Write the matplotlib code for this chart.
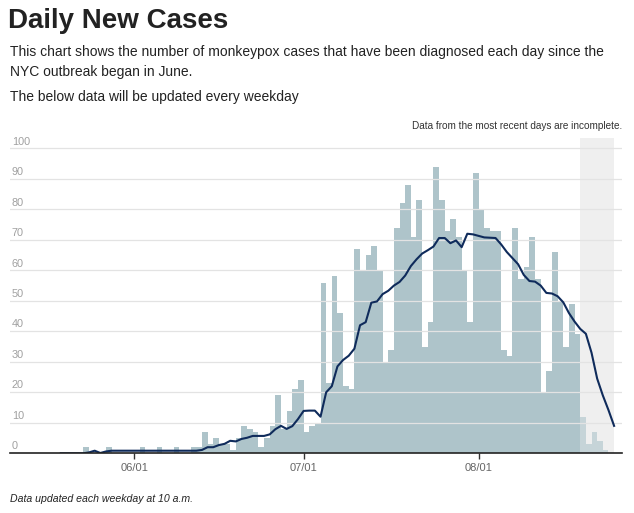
import numpy as np
import pandas as pd
import matplotlib
matplotlib.use("Agg")
import matplotlib.pyplot as plt
import matplotlib.dates as mdates
import matplotlib.transforms as mtransforms

plt.rcParams['font.family'] = ['Liberation Sans', 'DejaVu Sans']

# daily diagnosed cases (bars)
bar_start = "2022-05-18"
daily_cases = [
    0, 0, 0, 0, 0, 2, 0, 0, 0, 2, 0, 0, 0, 0,            # May 18 - May 31
    0, 2, 0, 0, 2, 0, 0, 2, 0, 0, 2, 2, 7, 3, 5,         # Jun 1 - Jun 15
    3, 3, 1, 5, 9, 8, 7, 2, 5, 9, 19, 8, 14, 21, 24,     # Jun 16 - Jun 30
    7, 9, 10, 56, 23, 58, 46, 22, 21, 67, 60, 65, 68, 60, 30, 34,   # Jul 1 - Jul 16
    74, 82, 88, 71, 83, 35, 43, 94, 83, 73, 77, 71, 60, 43, 92,     # Jul 17 - Jul 31
    80, 74, 73, 73, 34, 32, 74, 57, 61, 71, 57, 20, 27, 66, 50, 35, # Aug 1 - Aug 16
    49, 39, 12, 3, 7, 4, 1, 0,                                      # Aug 17 - Aug 24
]

# smoothed average (line)
line_start = "2022-05-19"
avg_cases = [
    0, 0, 0, 0, 0, 0.3, 0.85, 0.1, 0.6, 0.85, 0.85, 0.85, 0.85,      # May 19 - May 31
    0.85, 0.85, 0.85, 0.85, 0.85, 0.85, 0.85, 0.85, 0.85, 0.85, 0.85, 0.85,  # Jun 1 - Jun 12
    1.1, 2, 2, 2.7, 3.1, 4.1, 3.9, 4.7, 5.1, 5.7, 5.7, 5.7, 6.2,     # Jun 13 - Jun 25
    7.9, 9, 8, 8.9, 11.2,                                             # Jun 26 - Jun 30
    13.9, 14, 14, 12, 20, 22, 28.5, 30.6, 32, 34.3, 42, 43, 49.4, 49.8, 52.2, 53.3,  # Jul 1 - Jul 16
    55, 56.2, 58.3, 61.4, 63.6, 65.5, 66.6, 67.8, 70.6, 70.6, 68.9, 69.8, 67.6, 72, 71.8,  # Jul 17 - Jul 31
    71.3, 70.8, 70.7, 70.6, 68.5, 66, 64, 62, 58.5, 56.5, 56.3, 55, 52.6, 52.4, 51.5, 49.5,  # Aug 1 - Aug 16
    46, 43.2, 40.8, 39.2, 33, 24.5, 19, 14.2, 9,                     # Aug 17 - Aug 25
]

incomplete_from = "2022-08-19"
incomplete_to = "2022-08-25"
tick_dates = ["2022-06-01", "2022-07-01", "2022-08-01"]
tick_labels = ["06/01", "07/01", "08/01"]
y_ticks = list(range(0, 101, 10))

bar_dates = pd.date_range(bar_start, periods=len(daily_cases), freq="D")
line_dates = pd.date_range(line_start, periods=len(avg_cases), freq="D")
incomplete_start = pd.Timestamp(incomplete_from)

W, H = 634, 513
fig = plt.figure(figsize=(W / 100, H / 100), dpi=100)

def px(x, y):
    return x / W, 1 - y / H

# axes: x 10..622 px, y 138..453 px
ax = fig.add_axes([10 / W, (H - 453.3) / H, 612 / W, 315.3 / H])

bar_col = ["#aec4ca" if d < incomplete_start else "#c6d4d8" for d in bar_dates]
ax.bar(bar_dates, daily_cases, width=1, align="edge", color=bar_col, zorder=2, linewidth=0)
ax.axvspan(pd.Timestamp(incomplete_from), pd.Timestamp(incomplete_to), color="#efefef", zorder=0, lw=0)

for v in y_ticks:
    ax.axhline(v, color="#e3e3e3", lw=0.9, zorder=3)
trans = mtransforms.blended_transform_factory(ax.transAxes, ax.transData)
for v in y_ticks:
    ax.text(2 / 612, v + 0.6, str(v), transform=trans, ha="left", va="bottom",
            fontsize=7.8, color="#a0a0a0", zorder=5)

ax.plot(line_dates, avg_cases, color="#0f2b5b", lw=1.5, zorder=4, solid_joinstyle="round")

ax.set_ylim(0, 103.4)
d0 = mdates.date2num(pd.Timestamp("2022-06-01"))
ax.set_xlim(d0 - 22.0, d0 + 86.4)

for s in ["top", "right", "left"]:
    ax.spines[s].set_visible(False)
ax.spines["bottom"].set_color("#222222")
ax.spines["bottom"].set_linewidth(1.2)
ax.spines["bottom"].set_zorder(6)
ax.set_yticks([])
ax.set_xticks([pd.Timestamp(t) for t in tick_dates])
ax.set_xticklabels(tick_labels)
ax.tick_params(axis="x", length=4, width=1, color="#333333", labelsize=8, labelcolor="#666666", pad=3)

# texts
fig.text(*px(8, 28), "Daily New Cases", fontsize=20, fontweight="bold", color="#222222", va="baseline")
fig.text(*px(10, 56), "This chart shows the number of monkeypox cases that have been diagnosed each day since the",
         fontsize=10, color="#222222", va="baseline")
fig.text(*px(10, 76), "NYC outbreak began in June.", fontsize=10, color="#222222", va="baseline")
fig.text(*px(10, 101), "The below data will be updated every weekday", fontsize=10, color="#222222", va="baseline")
fig.text(*px(622, 129), "Data from the most recent days are incomplete.", fontsize=7.2,
         color="#333333", ha="right", va="baseline")
fig.text(*px(10, 502), "Data updated each weekday at 10 a.m.", fontsize=7.6, style="italic",
         color="#222222", va="baseline")

fig.savefig("out.png", dpi=100)
